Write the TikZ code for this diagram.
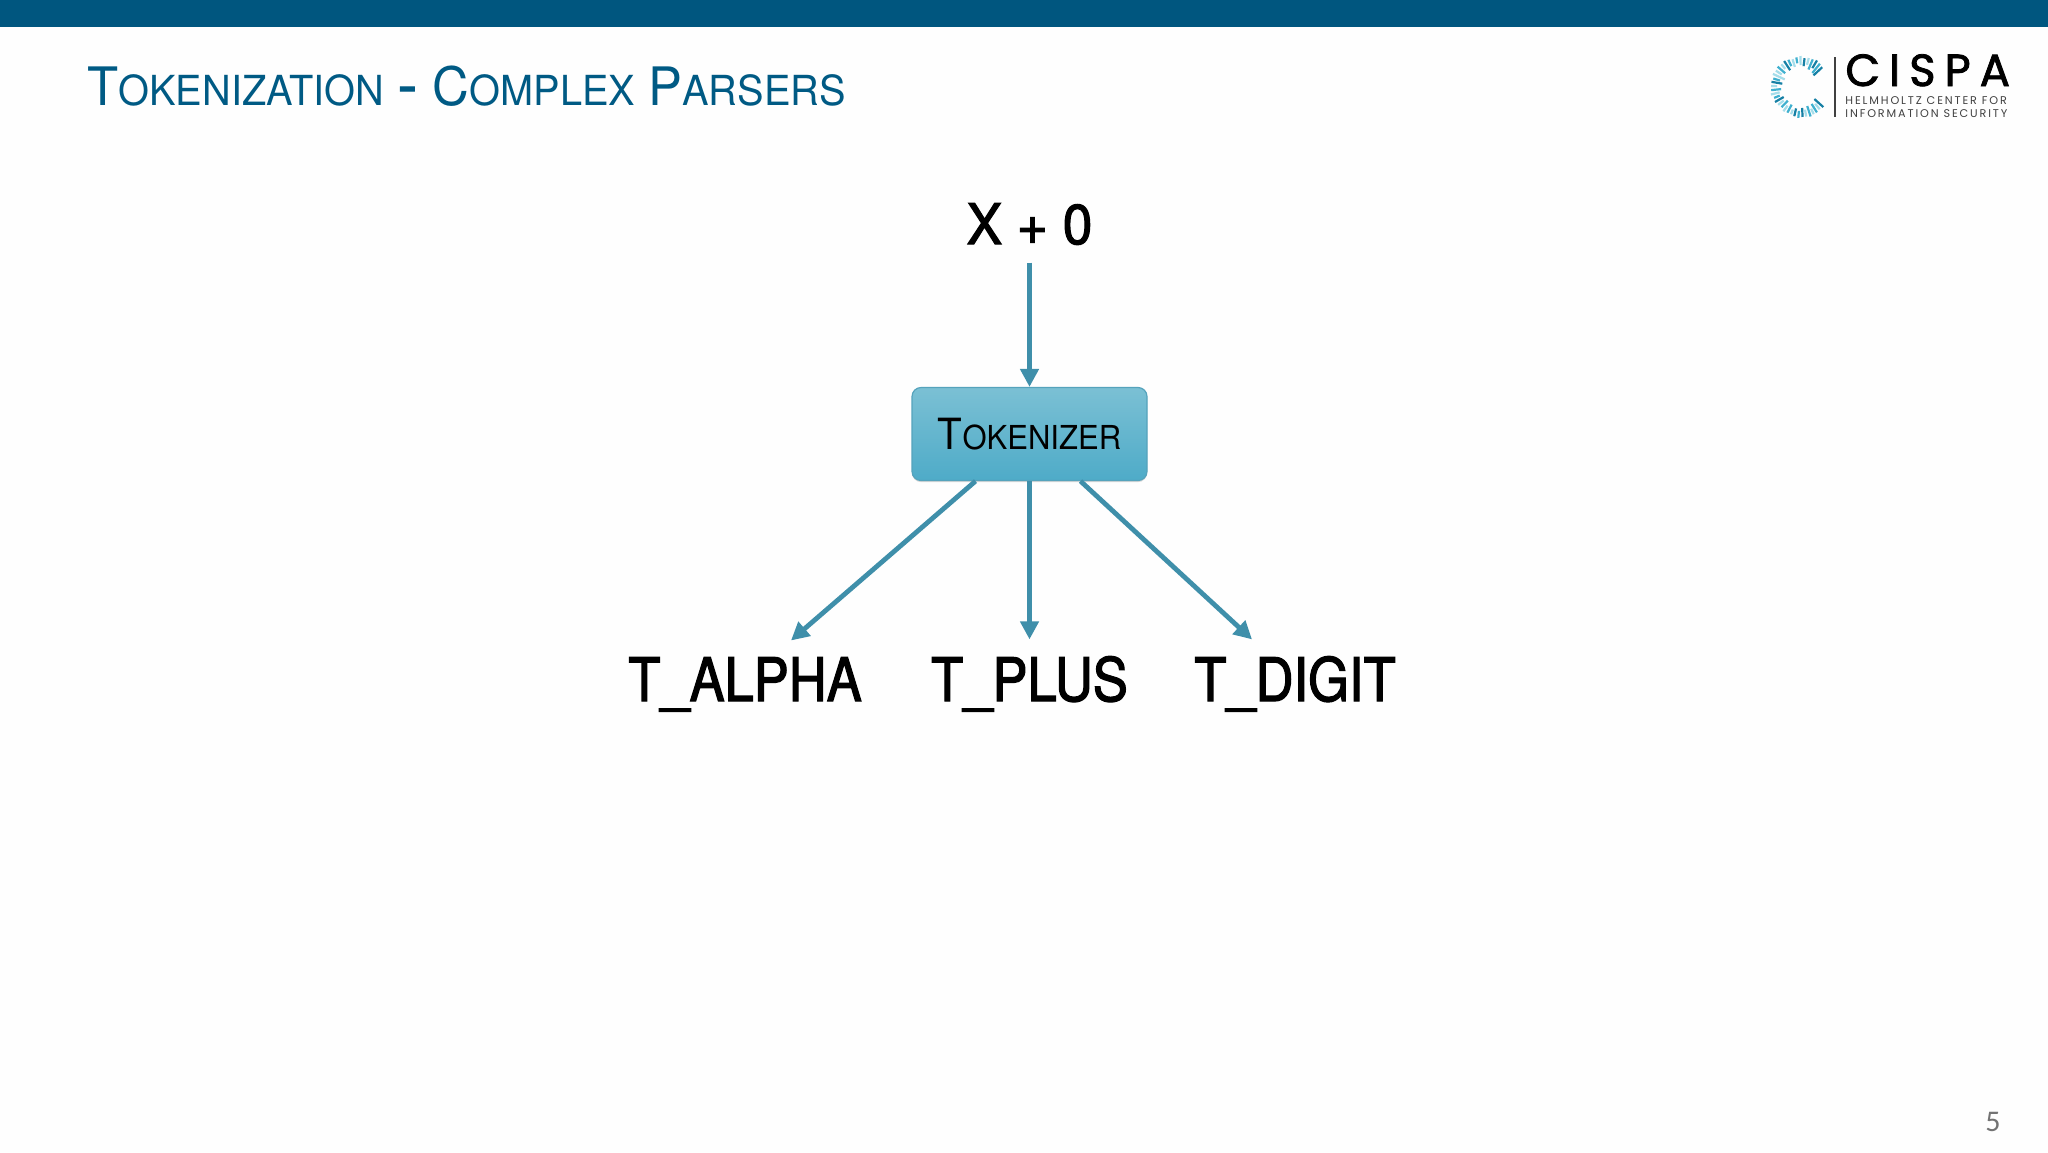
\documentclass[tikz,border=0pt]{standalone}
\usepackage{fontspec}
\usetikzlibrary{arrows.meta,shadows,fadings,calc}
\setmainfont[FakeStretch=0.96]{TeX Gyre Heros}
\newfontfamily\bigface[FakeBold=2,FakeStretch=0.875]{TeX Gyre Heros}
\newfontfamily\inputface[FakeBold=2,FakeStretch=0.95]{TeX Gyre Heros}
\newfontfamily\tokface[FakeStretch=0.94]{TeX Gyre Heros}
\newfontfamily\dashface[FakeBold=1.5]{TeX Gyre Heros}
\newfontfamily\logowide[LetterSpace=20,FakeBold=1.8]{Poppins}
\newfontfamily\logosmall[LetterSpace=16.7]{Poppins}
\newfontfamily\pagenumface{Carlito}
\definecolor{barblue}{HTML}{00567F}
\definecolor{titleblue}{HTML}{005A84}
\definecolor{arrowteal}{HTML}{3F8FAA}
\definecolor{boxtop}{HTML}{7BC0D4}
\definecolor{boxbot}{HTML}{4EABC8}
\definecolor{boxedge}{HTML}{55A3BC}
\definecolor{tickA}{HTML}{3FB0CF}
\definecolor{tickB}{HTML}{A5DDEA}
\definecolor{tickC}{HTML}{1680A5}
\newcommand{\twosize}[4]{{\fontsize{#1}{#1}\selectfont #3}{\fontsize{#2}{#2}\selectfont #4}}
\tikzset{
  x=0.5pt,y=-0.5pt,
  flow/.style={draw=arrowteal,line width=2.4pt,-{Triangle[length=9pt,width=9pt]}},
  bigtext/.style={anchor=base,inner sep=0pt,text=black,font=\bigface\fontsize{30}{30}\selectfont},
  tokbox/.style={rounded corners=4.5pt,draw=boxedge,line width=0.6pt,top color=boxtop,bottom color=boxbot,
    minimum width=117.5pt,minimum height=46.5pt,inner sep=0pt,
    drop shadow={shadow xshift=0pt,shadow yshift=-0.8pt,opacity=.25,fill=black!60}},
  logotick/.style={line width=1.1pt},
}
\begin{document}
\begin{tikzpicture}
\useasboundingbox (0,0) rectangle (2048,1152);
\fill[white!99.5!black] (0,0) rectangle (2048,1152);
\fill[barblue] (0,0) rectangle (2048,27);

\node[anchor=base west,inner sep=0pt,text=titleblue] (title) at (87,105.5)
  {\twosize{26.5}{20.7}{T}{OKENIZATION}\hspace{4pt} {\dashface\fontsize{30}{30}\selectfont -}\hspace{5pt} \twosize{26.5}{20.7}{C}{OMPLEX}\hspace{4pt} \twosize{26.5}{20.7}{P}{ARSERS}};

% logo
\coordinate (logoc) at (1801,87);
\foreach \a/\ra/\rb/\c in {
 42/18/30/tickC, 50/22/29/tickB, 58/20/30/tickA, 65/24/30/tickB, 72/20/31/tickA, 80/23/30/tickB, 87/21/30/tickC,
 95/24/31/tickA, 103/22/30/tickC, 110/24/29/tickB, 118/20/29/tickA, 126/23/30/tickB, 134/19/28/tickA, 142/22/29/tickB,
 150/20/30/tickC, 158/23/29/tickA, 166/22/31/tickB, 174/20/30/tickA, 182/24/30/tickB, 190/19/30/tickC, 197/22/29/tickA,
 205/18/31/tickB, 213/23/30/tickB, 221/21/31/tickA, 229/24/30/tickB, 237/20/31/tickC, 245/23/30/tickA, 253/21/29/tickB,
 261/24/30/tickA, 269/22/31/tickB, 277/21/29/tickC, 285/23/30/tickB, 293/19/30/tickA, 301/22/31/tickC, 309/18/30/tickA,
 317/17/29/tickC} {
  \draw[logotick,draw=\c] ($(logoc)+(\a:\ra)$) -- ($(logoc)+(\a:\rb)$);
}
\draw[black!75,line width=0.7pt] (1835,57) -- (1835,117);
\node[anchor=base west,inner sep=0pt,text=black] (cispa) at (1845,86)
  {\logowide\fontsize{22.5}{22.5}\selectfont CISPA};
\node[anchor=base west,inner sep=0pt,text=black!75] (hc1) at (1845,104)
  {\logosmall\fontsize{5.6}{5.6}\selectfont HELMHOLTZ CENTER FOR};
\node[anchor=base west,inner sep=0pt,text=black!75] (hc2) at (1845,117)
  {\logosmall\fontsize{5.6}{5.6}\selectfont INFORMATION SECURITY};

% diagram
\node[bigtext,font=\inputface\fontsize{28}{28}\selectfont] (input) at (1029.5,244) {X + 0};
\node[tokbox] (tok) at (1029.5,434) {};
\node[anchor=base,inner sep=0pt,text=black] (toklabel) at (1029.5,449) {\tokface\twosize{21.5}{16.5}{T}{OKENIZER}};
\node[bigtext] (alpha) at (745,701) {T\_ALPHA};
\node[bigtext] (plus) at (1029.5,701) {T\_PLUS};
\node[bigtext] (digit) at (1295,701) {T\_DIGIT};

\draw[flow] ([yshift=-8.7pt]input.south) -- (tok.north);
\draw[flow] ([xshift=-27pt]tok.south) -- ([xshift=23pt,yshift=8.2pt]alpha.north);
\draw[flow] (tok.south) -- ([yshift=8.2pt]plus.north);
\draw[flow] ([xshift=25.5pt]tok.south) -- ([xshift=-21.5pt,yshift=8.2pt]digit.north);

\node[anchor=base,inner sep=0pt,text=black!55] (pagenum) at (1993,1131)
  {\pagenumface\fontsize{15}{15}\selectfont 5};
\end{tikzpicture}
\end{document}
